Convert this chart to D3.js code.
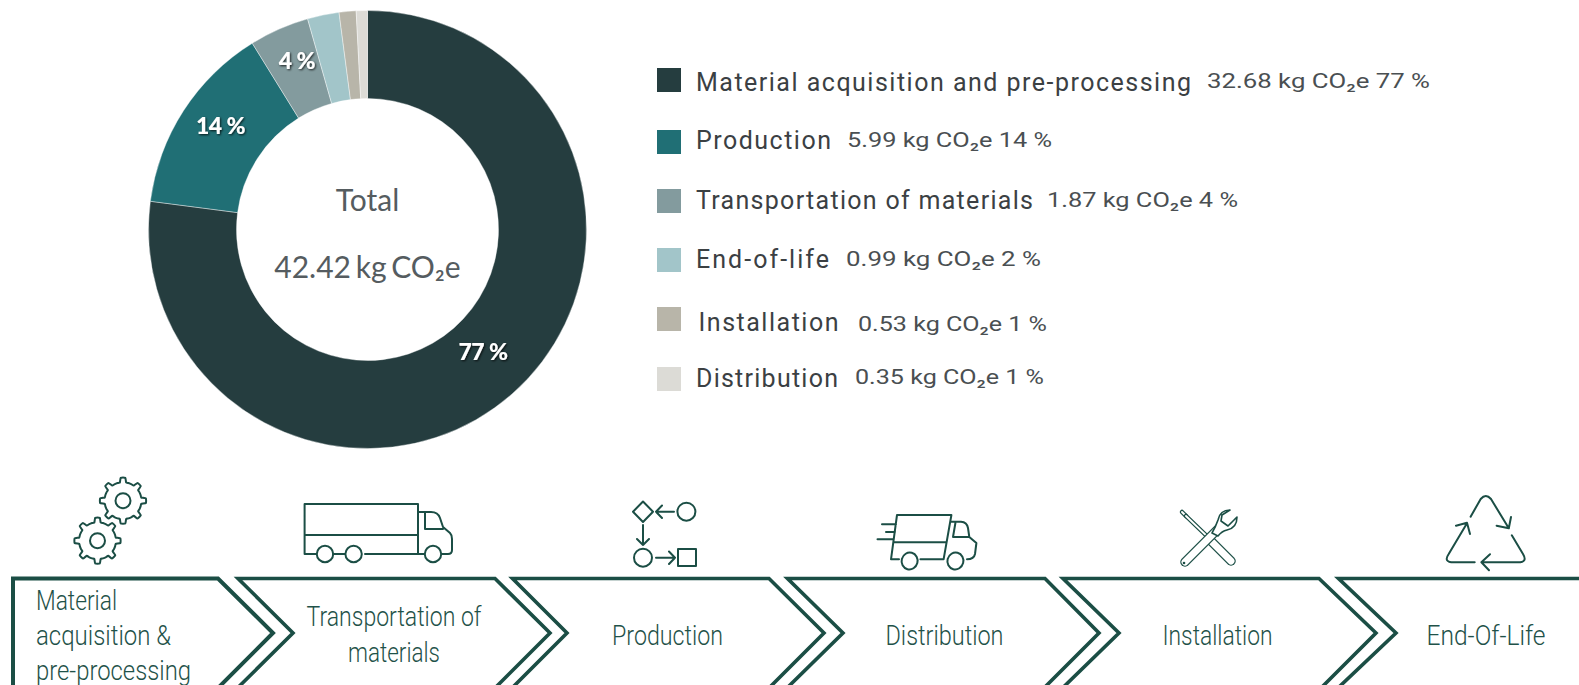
<!DOCTYPE html>
<html><head><meta charset="utf-8">
<script src="https://cdn.jsdelivr.net/npm/d3@7"></script>
<style>html,body{margin:0;padding:0;background:#fff;overflow:hidden}svg{display:block}</style>
</head><body><svg id="c" width="1579" height="685"></svg>
<script>
const categories=["Material acquisition and pre-processing","Production","Transportation of materials","End-of-life","Installation","Distribution"];
const values=[32.68,5.99,1.87,0.99,0.53,0.35];
const percents=[77,14,4,2,1,1];
const colors=["#253d3f","#206f75","#839b9e","#a2c5c9","#b8b5a9","#dcdbd6"];
const valueTexts=["32.68 kg CO₂e 77 %","5.99 kg CO₂e 14 %","1.87 kg CO₂e 4 %","0.99 kg CO₂e 2 %","0.53 kg CO₂e 1 %","0.35 kg CO₂e 1 %"];
const sliceLabels=["77 %","14 %","4 %",null,null,null];
const stepLabels=[["Material","acquisition &","pre-processing"],["Transportation of","materials"],["Production"],["Distribution"],["Installation"],["End-Of-Life"]];

const svg=d3.select("#c");
const defs=svg.append("defs");
const f=defs.append("filter").attr("id","sh").attr("x","-30%").attr("y","-30%").attr("width","160%").attr("height","160%");
f.append("feDropShadow").attr("dx",1).attr("dy",1).attr("stdDeviation",1.3).attr("flood-color","#000").attr("flood-opacity",0.8);

/* donut */
const cx=367.5,cy=229.5,R=219,r=131;
const pie=d3.pie().sort(null).value(d=>d);
const arc=d3.arc().innerRadius(r).outerRadius(R);
const gD=svg.append("g").attr("transform",`translate(${cx},${cy})`);
const arcs=pie(values);
gD.selectAll("path").data(arcs).join("path").attr("d",arc).attr("fill",(d,i)=>colors[i]).attr("stroke","#fff").attr("stroke-width",0.4);
gD.selectAll("text.l").data(arcs).join("text").attr("class","l")
  .text((d,i)=>sliceLabels[i]||"")
  .attr("x",d=>arc.centroid(d)[0]).attr("y",d=>arc.centroid(d)[1]-9.5)
  .attr("dominant-baseline","central").attr("text-anchor","middle")
  .attr("font-family","Lato").attr("font-weight",900).attr("font-size",23).attr("letter-spacing",-0.6)
  .attr("fill","#fff").attr("filter","url(#sh)");
gD.append("text").text("Total").attr("y",-19).attr("text-anchor","middle").attr("font-family","Lato").attr("font-size",30).attr("fill","#555c60");
gD.append("text").text("42.42 kg CO₂e").attr("y",48).attr("text-anchor","middle").attr("font-family","Lato").attr("font-size",30).attr("word-spacing",-3).attr("fill","#555c60");

/* legend */
const swY=[68,130,189,248,307,367];
const labelX=[696,696,696,696,698.5,696], labelY=[90.5,149,208.5,268,330.5,387], labelW=[495,135,337,133,140,142];
const valX=[1207,847,1047,846,858,855], valY=[87.5,146.7,206.5,266,331,384], valW=[223,205,191,195,189,189];
const lg=svg.append("g");
lg.selectAll("rect").data(categories).join("rect").attr("x",657).attr("y",(d,i)=>swY[i]).attr("width",24).attr("height",24).attr("fill",(d,i)=>colors[i]);
lg.selectAll("text.n").data(categories).join("text").attr("class","n").text(d=>d)
  .attr("x",(d,i)=>labelX[i]).attr("y",(d,i)=>labelY[i]).attr("textLength",(d,i)=>labelW[i]).attr("lengthAdjust","spacing")
  .attr("font-family","Roboto").attr("font-size",25).attr("fill","#3b4043");
lg.selectAll("text.v").data(valueTexts).join("text").attr("class","v").text(d=>d)
  .attr("x",(d,i)=>valX[i]).attr("y",(d,i)=>valY[i]).attr("textLength",(d,i)=>valW[i]).attr("lengthAdjust","spacingAndGlyphs")
  .attr("font-family","Roboto").attr("font-size",20.5).attr("fill","#4a4f52");

/* chevrons */
const ink="#1b4e45";
const chevTop=578.5,tipY=633,bot=700;
const chev=[[13,13,218,273],[238,293,495,550],[512.5,567,769,824],[787.5,843,1045,1099],[1063,1119,1319,1376],[1338.5,1396,1600,1655]];
const gC=svg.append("g").attr("fill","none").attr("stroke",ink).attr("stroke-width",4);
chev.forEach((c,i)=>{
  const [a,n,b,t]=c, d=bot-tipY;
  const p=d3.path();
  if(i===0){p.moveTo(a,bot);p.lineTo(a,chevTop);}
  else{p.moveTo(n-(d/(tipY-chevTop))*(n-a),bot);p.lineTo(n,tipY);p.lineTo(a,chevTop);}
  p.lineTo(b,chevTop);p.lineTo(t,tipY);p.lineTo(t-d,bot);
  gC.append("path").attr("d",p.toString()).attr("stroke-width",i==0?4:3.6);
});
const stepX=[36,394,667.5,944.5,1217.5,1486];
const stepY=[[610,645,680],[626,662],[645],[645],[645],[645]];
const stepW=[[81,135,155],[175,92],[111],[118],[110],[119]];
stepLabels.forEach((ls,i)=>ls.forEach((t,j)=>{
  const w=stepW[i][j];
  svg.append("text").text(t)
    .attr("x",i==0?stepX[i]:stepX[i]-w/2).attr("y",stepY[i][j])
    .attr("textLength",w).attr("lengthAdjust","spacingAndGlyphs")
    .attr("font-family","Roboto").attr("font-weight",300).attr("font-size",28).attr("fill","#1f5249");
}));

/* icons */
const ic=svg.append("g").attr("fill","none").attr("stroke",ink).attr("stroke-width",2).attr("stroke-linejoin","round").attr("stroke-linecap","round");
function gear(x,y){
  const teeth=8,pts=[];
  for(let k=0;k<teeth;k++){
    const a=k*2*Math.PI/teeth;
    [[-.30,18.5],[-.17,18.5],[-.1,23],[.1,23],[.17,18.5],[.30,18.5]].forEach(([o,rad])=>pts.push([a+o,rad]));
  }
  ic.append("path").attr("transform",`translate(${x},${y})`).attr("d",d3.lineRadial().curve(d3.curveCardinalClosed.tension(.6))(pts));
  ic.append("circle").attr("cx",x).attr("cy",y).attr("r",7.5);
}
gear(123,500.7);gear(97.5,540.7);
const P=d=>ic.append("path").attr("d",d);
const C=(x,y,rr)=>ic.append("circle").attr("cx",x).attr("cy",y).attr("r",rr);
// truck
P("M316,554H304.6V504H418V554H365M333,554H345M418,535H304.6M418,512H431Q438,512 440,518L443,527L450,533Q452,535 452,539V550Q452,554 448,554H442M425,512V529H443M418,554H424");
[325,353.6,433].forEach(x=>C(x,554,8.2));
// production
P("M643,501.5L653,511.7L643,522L633,511.7ZM674,511.7H656M662,505.5L656,511.7L662,518M643,525V545M637,539L643,545L649,539M656,557.7H675M669,551.5L675,557.7L669,564");
C(686.4,511.7,9);C(643,557.7,9);
ic.append("rect").attr("x",678).attr("y",549).attr("width",18).attr("height",17);
// delivery truck
P("M899,559.3H891L897,515H951.4L943.6,559.3H920.4M893.6,542.3H946M882,524.3H896M886,532H895M877.5,539.3H893.6M950.7,521.7H961Q967,522 968,528L969.3,537L976.4,543L975,554Q974,559.3 967,559.3M955.4,523L953,537H969.3");
ic.append("ellipse").attr("cx",909.6).attr("cy",561).attr("rx",8).attr("ry",8.5).attr("transform","rotate(15 909.6 561)");
ic.append("ellipse").attr("cx",955.4).attr("cy",561).attr("rx",8).attr("ry",8.5).attr("transform","rotate(15 955.4 561)");
// tools
const tool=svg.append("g").attr("fill","none").attr("stroke-linecap","round").attr("stroke-linejoin","round");
const seg=(x1,y1,x2,y2,w)=>{tool.append("line").attr("x1",x1).attr("y1",y1).attr("x2",x2).attr("y2",y2).attr("stroke",ink).attr("stroke-width",w);
  tool.append("line").attr("x1",x1).attr("y1",y1).attr("x2",x2).attr("y2",y2).attr("stroke","#fff").attr("stroke-width",w-2.6);};
seg(1182,512,1186,516,4.5);seg(1186,516,1212,541,4.5);seg(1210,540,1231,561,9.5);
seg(1185,562,1220,527,9.5);
tool.append("path").attr("d","M1212,533Q1216,526 1218,520Q1220,510 1230,510L1222,515L1221,521L1228,526L1237,517Q1237,528 1227,530Q1222,531 1218,536Z").attr("fill","#fff").attr("stroke",ink).attr("stroke-width",1.6);
tool.append("circle").attr("cx",1184).attr("cy",563).attr("r",1.3).attr("fill",ink);
// recycle
P("M1470.6,516.7L1480.7,499Q1485.8,493 1491,499L1508.8,528.3M1496.6,525.7L1508.8,528.3L1511,517M1511.8,535.3L1523,554Q1528,562.3 1518,562.3H1482.4M1490,554.3L1481.4,562.3L1489,570.3M1474.7,562.3H1453.7Q1443,562.3 1448.7,554L1467,523.3M1456,525.7L1467,522.7L1470,534");
</script></body></html>
